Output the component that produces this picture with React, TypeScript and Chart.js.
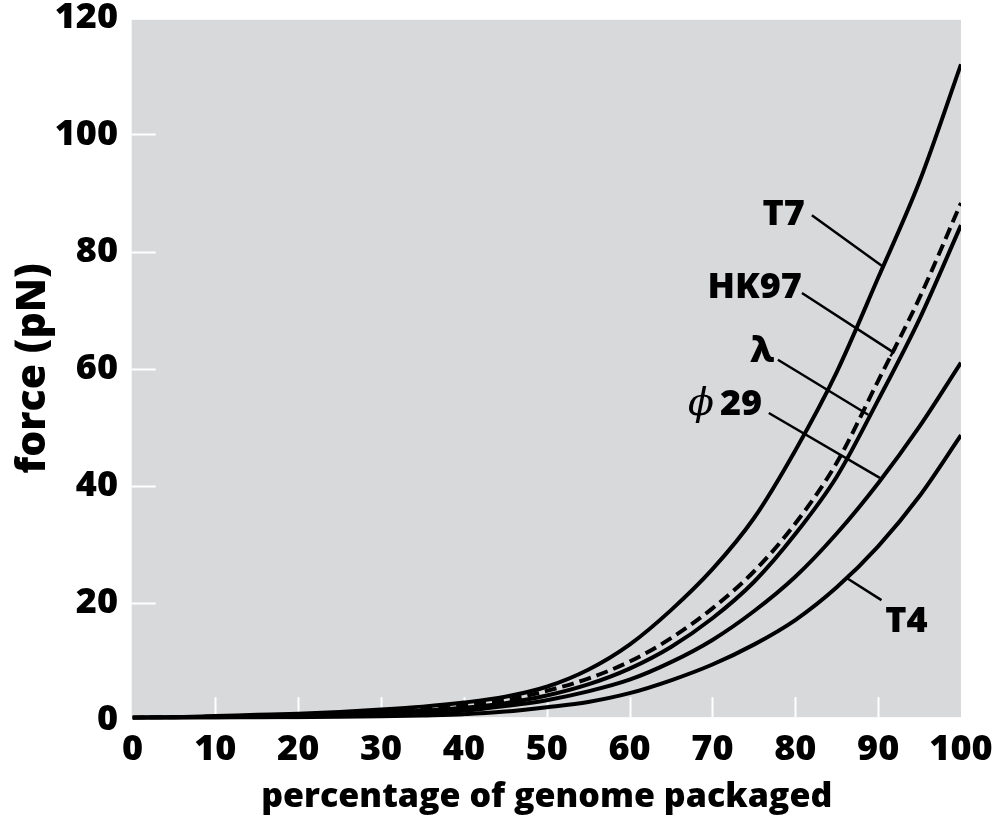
import React, { useEffect, useRef } from 'react';
import { Chart, registerables } from 'chart.js';

Chart.register(...registerables);

// ---- data ----
const percentPackaged = [0, 5, 10, 15, 20, 25, 30, 35, 40, 45, 50, 55, 60, 65, 70, 75, 80, 85, 90, 95, 100];
const forceT7 = [0.3, 0.4, 0.6, 0.8, 1.0, 1.3, 1.7, 2.2, 2.9, 3.9, 5.6, 8.5, 12.8, 18.7, 25.7, 34.4, 46.0, 59.4, 75.5, 92.0, 112.0];
const forceHK97 = [0.3, 0.4, 0.5, 0.6, 0.8, 1.1, 1.5, 1.9, 2.4, 3.3, 4.9, 7.0, 9.9, 13.9, 19.0, 25.3, 33.5, 43.9, 57.9, 72.1, 88.3];
const forceLambda = [0.3, 0.35, 0.45, 0.55, 0.7, 0.9, 1.2, 1.5, 2.0, 2.8, 4.1, 6.0, 8.7, 12.4, 17.3, 23.5, 31.7, 41.5, 54.6, 68.5, 84.5];
const forcePhi29 = [0.3, 0.35, 0.4, 0.45, 0.55, 0.7, 0.85, 1.1, 1.5, 2.3, 3.3, 4.8, 6.8, 9.8, 13.6, 18.5, 24.4, 31.8, 40.4, 50.1, 61.0];
const forceT4 = [0.3, 0.3, 0.3, 0.35, 0.4, 0.45, 0.55, 0.7, 0.9, 1.35, 2.1, 3.0, 4.5, 6.7, 9.4, 12.8, 17.0, 22.6, 29.6, 38.2, 48.6];

const xTickValues = [0, 10, 20, 30, 40, 50, 60, 70, 80, 90, 100];
const yTickValues = [0, 20, 40, 60, 80, 100, 120];

const seriesNames = ['T7', 'HK97', 'λ', 'ϕ 29', 'T4'];

// curve labels with leader lines, in data coordinates
const curveLabels = [
  { text: 'T7', tx: 78.6, ty: 84.5, from: [82.0, 86.2], to: [90.6, 77.4] },
  { text: 'HK97', tx: 75.1, ty: 72.1, from: [80.8, 72.9], to: [91.8, 62.8], endBar: true },
  { text: 'λ', tx: 76.0, ty: 61.1, from: [77.9, 61.5], to: [88.8, 52.1] },
  { text: '29', phi: true, tx: 70.9, ty: 52.1, from: [76.8, 52.4], to: [90.2, 41.3] },
  { text: 'T4', tx: 93.4, ty: 15.0, from: [90.4, 20.4], to: [86.2, 24.2] },
];

const FONT = "'Open Sans', 'DejaVu Sans', sans-serif";
const PLOT_BG = 'rgb(216,217,219)';

const plotPlugin = {
  id: 'plotDecor',
  beforeDatasetsDraw(chart: any) {
    const { ctx, scales } = chart;
    const xs = scales.x;
    const ys = scales.y;
    const l = xs.getPixelForValue(-0.1);
    const r = xs.getPixelForValue(100);
    const t = ys.getPixelForValue(119.6);
    const b = ys.getPixelForValue(0.4);
    ctx.save();
    ctx.fillStyle = PLOT_BG;
    ctx.fillRect(l, t, r - l, b - t);
    ctx.strokeStyle = '#ffffff';
    ctx.lineWidth = 2;
    yTickValues.forEach((v) => {
      if (v <= 0 || v >= 120) return;
      const py = Math.round(ys.getPixelForValue(v)) + 0.5;
      ctx.beginPath();
      ctx.moveTo(l, py);
      ctx.lineTo(l + 24, py);
      ctx.stroke();
    });
    xTickValues.forEach((v) => {
      if (v <= 0 || v >= 100) return;
      const px = Math.round(xs.getPixelForValue(v)) + 0.5;
      ctx.beginPath();
      ctx.moveTo(px, b);
      ctx.lineTo(px, b - 20);
      ctx.stroke();
    });
    ctx.restore();
  },
  afterDatasetsDraw(chart: any) {
    const { ctx, scales } = chart;
    const xs = scales.x;
    const ys = scales.y;
    ctx.save();
    ctx.strokeStyle = '#000';
    ctx.fillStyle = '#000';
    ctx.lineWidth = 2.5;
    ctx.lineCap = 'butt';
    curveLabels.forEach((lab: any) => {
      const x1 = xs.getPixelForValue(lab.from[0]);
      const y1 = ys.getPixelForValue(lab.from[1]);
      const x2 = xs.getPixelForValue(lab.to[0]);
      const y2 = ys.getPixelForValue(lab.to[1]);
      ctx.beginPath();
      ctx.moveTo(x1, y1);
      ctx.lineTo(x2, y2);
      ctx.stroke();
      if (lab.endBar) {
        const dx = x2 - x1;
        const dy = y2 - y1;
        const len = Math.hypot(dx, dy);
        const nx = -dy / len;
        const ny = dx / len;
        ctx.beginPath();
        ctx.moveTo(x2 - nx * 5, y2 - ny * 5);
        ctx.lineTo(x2 + nx * 5, y2 + ny * 5);
        ctx.stroke();
      }
      const px = xs.getPixelForValue(lab.tx);
      const py = ys.getPixelForValue(lab.ty);
      ctx.textBaseline = 'alphabetic';
      if (lab.phi) {
        ctx.font = "800 36px " + FONT;
        ctx.textAlign = 'left';
        ctx.fillText(lab.text, px, py);
        ctx.font = "italic 38px 'DejaVu Serif', serif";
        ctx.textAlign = 'right';
        ctx.fillText('ϕ', px - 6, py);
      } else {
        ctx.font = "800 36px " + FONT;
        ctx.textAlign = 'center';
        ctx.fillText(lab.text, px, py);
      }
    });
    ctx.restore();
  },
};

function toPoints(vals: number[]) {
  return percentPackaged.map((x, i) => ({ x, y: vals[i] }));
}

export default function App() {
  const canvasRef = useRef<HTMLCanvasElement | null>(null);

  useEffect(() => {
    if (!canvasRef.current) return;
    const seriesValues = [forceT7, forceHK97, forceLambda, forcePhi29, forceT4];
    const chart = new Chart(canvasRef.current, {
      type: 'line',
      data: {
        datasets: seriesValues.map((vals, i) => ({
          label: seriesNames[i],
          data: toPoints(vals),
          borderColor: '#000',
          borderWidth: 4,
          borderDash: i === 1 ? [12, 6] : [],
          pointRadius: 0,
          fill: false,
          cubicInterpolationMode: 'monotone' as const,
        })),
      },
      options: {
        responsive: false,
        animation: false,
        devicePixelRatio: 1,
        layout: { padding: { top: 17.5, right: 41, left: 0, bottom: 0 } },
        plugins: {
          legend: { display: false },
          tooltip: { enabled: false },
        },
        scales: {
          x: {
            type: 'linear',
            min: 0,
            max: 100,
            border: { display: false },
            grid: { display: false, drawTicks: false },
            afterBuildTicks: (scale: any) => {
              scale.ticks = xTickValues.map((v) => ({ value: v }));
            },
            afterFit: (scale: any) => {
              scale.height = 98.5;
              scale.paddingLeft = 0;
              scale.paddingRight = 0;
            },
            ticks: {
              color: '#000',
              padding: 9,
              maxRotation: 0,
              autoSkip: false,
              font: { family: FONT, size: 36, weight: '800' },
            },
            title: {
              display: true,
              text: 'percentage of genome packaged',
              color: '#000',
              padding: { top: 0, bottom: 0 },
              font: { family: FONT, size: 34, weight: '800' },
            },
          },
          y: {
            type: 'linear',
            min: 0,
            max: 120,
            border: { display: false },
            grid: { display: false, drawTicks: false },
            afterBuildTicks: (scale: any) => {
              scale.ticks = yTickValues.map((v) => ({ value: v }));
            },
            afterFit: (scale: any) => {
              scale.width = 132.5;
              scale.paddingTop = 0;
              scale.paddingBottom = 0;
            },
            ticks: {
              color: '#000',
              padding: 14.5,
              autoSkip: false,
              font: { family: FONT, size: 36, weight: '800' },
            },
            title: {
              display: true,
              text: 'force (pN)',
              color: '#000',
              padding: { top: 9, bottom: 0 },
              font: { family: FONT, size: 41, weight: '800' },
            },
          },
        },
      },
      plugins: [plotPlugin],
    });
    return () => chart.destroy();
  }, []);

  return (
    <div style={{ position: 'absolute', left: 0, top: 0, width: 1002, height: 818, background: '#fff' }}>
      <canvas ref={canvasRef} width={1002} height={818} style={{ display: 'block' }} />
    </div>
  );
}
